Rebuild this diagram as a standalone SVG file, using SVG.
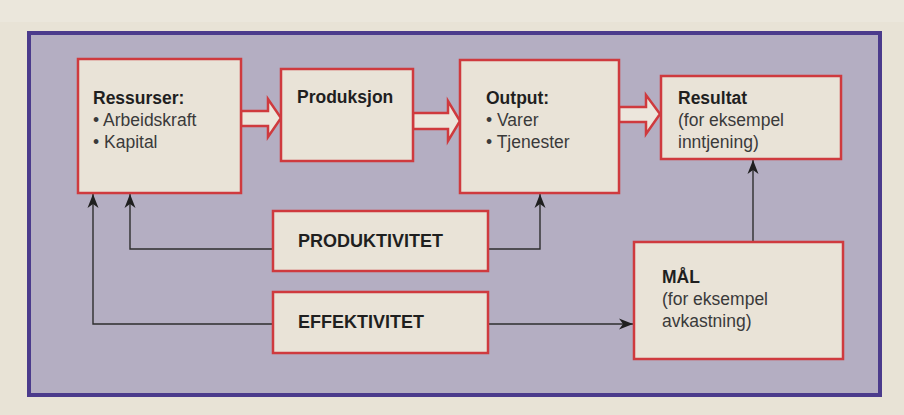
<svg xmlns="http://www.w3.org/2000/svg" width="904" height="415" viewBox="0 0 904 415">
<defs>
<style>
.box{fill:#e9e3d7;stroke:#cf3a3e;stroke-width:2.5}
.harrow{fill:#ece6dc;stroke:#cf3a3e;stroke-width:2.5;stroke-linejoin:miter}
.conn{fill:none;stroke:#2e2e2e;stroke-width:1.4}
text{font-family:"Liberation Sans",Arial,Helvetica,sans-serif}
.b{font-weight:bold;font-size:17.5px;fill:#1f1f1f}
.r{font-size:17.5px;fill:#3a3a3a}
.cap{font-weight:bold;font-size:18px;fill:#1f1f1f}
</style>
<marker id="ah" markerUnits="userSpaceOnUse" markerWidth="14" markerHeight="12" refX="14" refY="6" orient="auto">
<path d="M0,0.5 L14,6 L0,11.5 L4,6 z" fill="#1f1f1f"/>
</marker>
</defs>
<rect x="0" y="0" width="904" height="415" fill="#e8e3d6"/>
<rect x="0" y="0" width="904" height="22" fill="#ebe7dc"/>
<rect id="panel" x="29" y="33" width="851" height="362" fill="#b4aec2" stroke="#4b3b8c" stroke-width="4"/>

<g id="connectors">
<path class="conn" d="M273,249 H130 V194" marker-end="url(#ah)"/>
<path class="conn" d="M488,249 H540 V194" marker-end="url(#ah)"/>
<path class="conn" d="M273,324 H93 V194" marker-end="url(#ah)"/>
<path class="conn" d="M488,324 H633" marker-end="url(#ah)"/>
<path class="conn" d="M753,242 V160" marker-end="url(#ah)"/>
<polygon class="harrow" points="241,111 268,111 268,99 281,118 268,137 268,126 241,126"/>
<polygon class="harrow" points="413,113 448,113 448,101 460,121 448,141 448,129 413,129"/>
<polygon class="harrow" points="619,107 646,107 646,95 660,114 646,134 646,122 619,122"/>
</g>

<g id="ressurser">
<rect class="box" x="78" y="59" width="163" height="134"/>
<text class="b" x="93" y="104">Ressurser:</text>
<text class="r" x="93" y="126">• Arbeidskraft</text>
<text class="r" x="93" y="148">• Kapital</text>
</g>

<g id="produksjon">
<rect class="box" x="281" y="69" width="132" height="92"/>
<text class="b" x="297" y="103">Produksjon</text>
</g>

<g id="output">
<rect class="box" x="460" y="60" width="159" height="133"/>
<text class="b" x="486" y="104">Output:</text>
<text class="r" x="486" y="126">• Varer</text>
<text class="r" x="486" y="148">• Tjenester</text>
</g>

<g id="resultat">
<rect class="box" x="661" y="76" width="180" height="83"/>
<text class="b" x="678" y="104">Resultat</text>
<text class="r" x="678" y="126">(for eksempel</text>
<text class="r" x="678" y="148">inntjening)</text>
</g>

<g id="produktivitet">
<rect class="box" x="273" y="211" width="215" height="60"/>
<text class="cap" x="298" y="247">PRODUKTIVITET</text>
</g>

<g id="effektivitet">
<rect class="box" x="273" y="292" width="215" height="61"/>
<text class="cap" x="298" y="328">EFFEKTIVITET</text>
</g>

<g id="maal">
<rect class="box" x="634" y="242" width="209" height="117"/>
<text class="b" x="662" y="283">MÅL</text>
<text class="r" x="662" y="305">(for eksempel</text>
<text class="r" x="662" y="327">avkastning)</text>
</g>
</svg>
